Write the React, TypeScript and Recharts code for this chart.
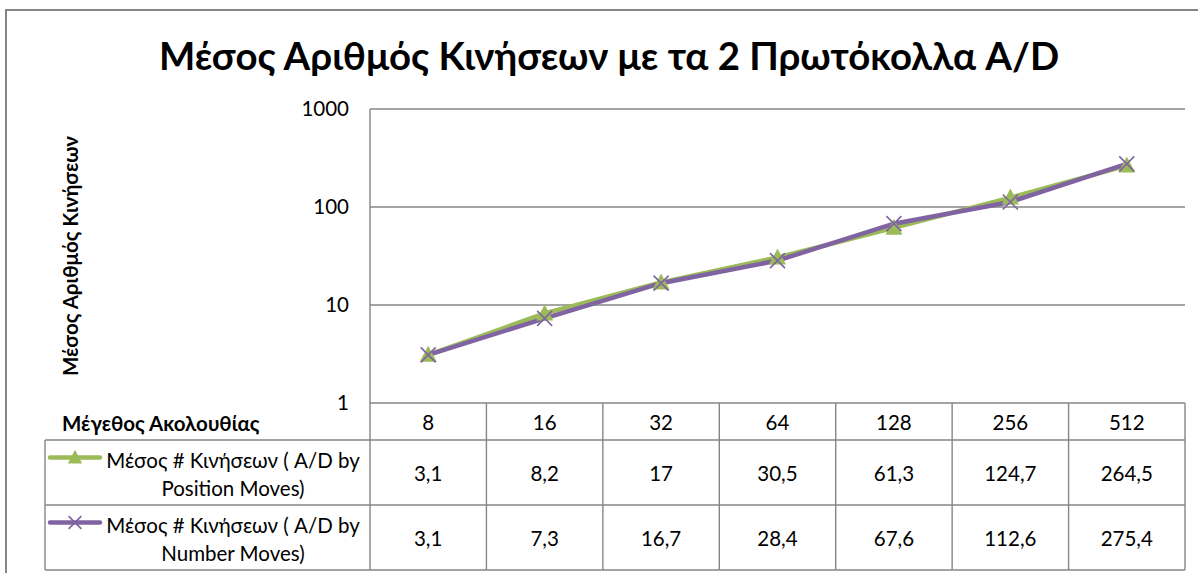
import React from 'react';
import { LineChart, Line, XAxis, YAxis, CartesianGrid } from 'recharts';

// ---- data ----
const categories = ['8', '16', '32', '64', '128', '256', '512'];
const positionMoves = [3.1, 8.2, 17, 30.5, 61.3, 124.7, 264.5];
const numberMoves = [3.1, 7.3, 16.7, 28.4, 67.6, 112.6, 275.4];
const yTicks = [1, 10, 100, 1000];
const seriesLines = [
  ['Μέσος # Κινήσεων ( A/D by', 'Position Moves)'],
  ['Μέσος # Κινήσεων ( A/D by', 'Number Moves)'],
];
const titleText = 'Μέσος Αριθμός Κινήσεων με τα 2 Πρωτόκολλα A/D';
const yAxisTitle = 'Μέσος Αριθμός Κινήσεων';
const xAxisTitle = 'Μέγεθος Ακολουθίας';

const data = categories.map((c, i) => ({ size: c, pos: positionMoves[i], num: numberMoves[i] }));

// ---- layout / style ----
const W = 1198;
const H = 573;
const PLOT_LEFT = 370;
const PLOT_RIGHT = 1185;
const PLOT_TOP = 109;
const TABLE_BOTTOM_SPACE = 170;
const BAND = (PLOT_RIGHT - PLOT_LEFT) / categories.length;
const HEADER_H = 37;
const ROW_H = 65;
const TABLE_LEFT = 45;
const GRID = '#868686';
const GREEN = '#9BBB59';
const PURPLE = '#8064A2';
const FONT = "Lato, 'Open Sans', sans-serif";
const TXT = 20.5;
const BOLD_TXT = 20.5;
const series = [
  { key: 'pos', color: GREEN, values: positionMoves, marker: 'tri' },
  { key: 'num', color: PURPLE, values: numberMoves, marker: 'x' },
];

const fmt = (v: number) => String(v).replace('.', ',');

const Marker = ({ cx, cy, kind, color, s = 1 }: any) => {
  if (kind === 'tri') {
    return (
      <polygon
        points={`${cx},${cy - 9 * s} ${cx - 8.5 * s},${cy + 7 * s} ${cx + 8.5 * s},${cy + 7 * s}`}
        fill={color}
      />
    );
  }
  const d = 7.5 * s;
  return (
    <path
      d={`M${cx - d},${cy - d}L${cx + d},${cy + d}M${cx - d},${cy + d}L${cx + d},${cy - d}`}
      stroke={color}
      strokeWidth={1.6}
      fill="none"
    />
  );
};

const TableTick = (props: any) => {
  const { x, y, payload, index } = props;
  const i = typeof index === 'number' ? index : payload.index;
  const l = x - BAND / 2;
  const r = x + BAND / 2;
  const yH = y + HEADER_H;
  const y1 = yH + ROW_H;
  const y2 = y1 + ROW_H;
  const line = { stroke: GRID, strokeWidth: 1.4 };
  return (
    <g fontFamily={FONT} fontSize={TXT} fill="#000">
      <line x1={r} y1={y} x2={r} y2={y2} {...line} />
      {i === 0 && <line x1={l} y1={y} x2={l} y2={y2} {...line} />}
      <line x1={l} y1={yH} x2={r} y2={yH} {...line} />
      <line x1={l} y1={y1} x2={r} y2={y1} {...line} />
      <line x1={l} y1={y2} x2={r} y2={y2} {...line} />
      <text x={x} y={y + HEADER_H / 2} textAnchor="middle" dominantBaseline="central">
        {payload.value}
      </text>
      {series.map((s, k) => (
        <text
          key={s.key}
          x={x}
          y={yH + ROW_H * k + ROW_H / 2}
          textAnchor="middle"
          dominantBaseline="central"
        >
          {fmt(s.values[i])}
        </text>
      ))}
      {i === 0 && (
        <g>
          <text
            x={62}
            y={y + HEADER_H / 2 + 1}
            fontWeight="bold"
            fontSize={BOLD_TXT}
            dominantBaseline="central"
          >
            {xAxisTitle}
          </text>
          <line x1={TABLE_LEFT} y1={yH} x2={l} y2={yH} {...line} />
          <line x1={TABLE_LEFT} y1={y1} x2={l} y2={y1} {...line} />
          <line x1={TABLE_LEFT} y1={y2} x2={l} y2={y2} {...line} />
          <line x1={TABLE_LEFT} y1={yH} x2={TABLE_LEFT} y2={y2} {...line} />
          {series.map((s, k) => {
            const cy = yH + ROW_H * k + ROW_H / 2;
            return (
              <g key={s.key}>
                <line x1={50} y1={cy - 15} x2={100} y2={cy - 15} stroke={s.color} strokeWidth={4.5} strokeLinecap="round" />
                <Marker cx={75} cy={cy - 15} kind={s.marker} color={s.color} s={0.85} />
                <text x={233} y={cy - 13} textAnchor="middle" dominantBaseline="central">
                  {seriesLines[k][0]}
                </text>
                <text x={233} y={cy + 15} textAnchor="middle" dominantBaseline="central">
                  {seriesLines[k][1]}
                </text>
              </g>
            );
          })}
        </g>
      )}
    </g>
  );
};

const YTitle = (props: any) => {
  const vb = props.viewBox || { y: PLOT_TOP, height: 294 };
  const cx = 70;
  const cy = vb.y + vb.height / 2;
  return (
    <text
      x={cx}
      y={cy}
      transform={`rotate(-90, ${cx}, ${cy})`}
      textAnchor="middle"
      dominantBaseline="central"
      fontFamily={FONT}
      fontWeight="bold"
      fontSize={BOLD_TXT}
      fill="#000"
    >
      {yAxisTitle}
    </text>
  );
};

export default function App() {
  return (
    <div style={{ position: 'absolute', left: 0, top: 0, width: W, height: H, overflow: 'hidden', background: '#fff' }}>
      <div
        style={{
          position: 'absolute',
          left: 5,
          top: 9,
          width: W + 20,
          height: H + 20,
          border: `2px solid ${GRID}`,
          boxSizing: 'border-box',
        }}
      />
      <div
        style={{
          position: 'absolute',
          left: 10,
          top: 32,
          width: W,
          textAlign: 'center',
          fontFamily: FONT,
          fontWeight: 'bold',
          fontSize: 38.4,
          lineHeight: '46px',
          color: '#000',
        }}
      >
        {titleText}
      </div>
      <div style={{ position: 'absolute', left: 0, top: 0 }}>
        <LineChart
          width={W}
          height={H}
          data={data}
          margin={{ top: PLOT_TOP, right: W - PLOT_RIGHT, bottom: 0, left: PLOT_LEFT - 60 }}
        >
          <CartesianGrid vertical={false} stroke={GRID} strokeWidth={1.4} />
          <XAxis
            dataKey="size"
            height={TABLE_BOTTOM_SPACE}
            axisLine={false}
            tickLine={false}
            tickSize={0}
            tickMargin={0}
            interval={0}
            padding={{ left: BAND / 2, right: BAND / 2 }}
            tick={(p: any) => <TableTick {...p} />}
          />
          <YAxis
            width={60}
            scale="log"
            type="number"
            domain={[1, 1000]}
            ticks={yTicks}
            allowDataOverflow
            axisLine={{ stroke: GRID, strokeWidth: 1.4 }}
            tickLine={false}
            tickSize={0}
            tickMargin={21}
            tick={{ fontFamily: FONT, fontSize: TXT, fill: '#000' }}
            label={{ value: yAxisTitle, content: (p: any) => <YTitle {...p} /> }}
          />
          {series.map((s) => (
            <Line
              key={s.key}
              dataKey={s.key}
              stroke={s.color}
              strokeWidth={4.5}
              isAnimationActive={false}
              dot={(p: any) => <Marker key={`${s.key}-${p.index}`} cx={p.cx} cy={p.cy} kind={s.marker} color={s.color} />}
              activeDot={false}
            />
          ))}
        </LineChart>
      </div>
    </div>
  );
}
